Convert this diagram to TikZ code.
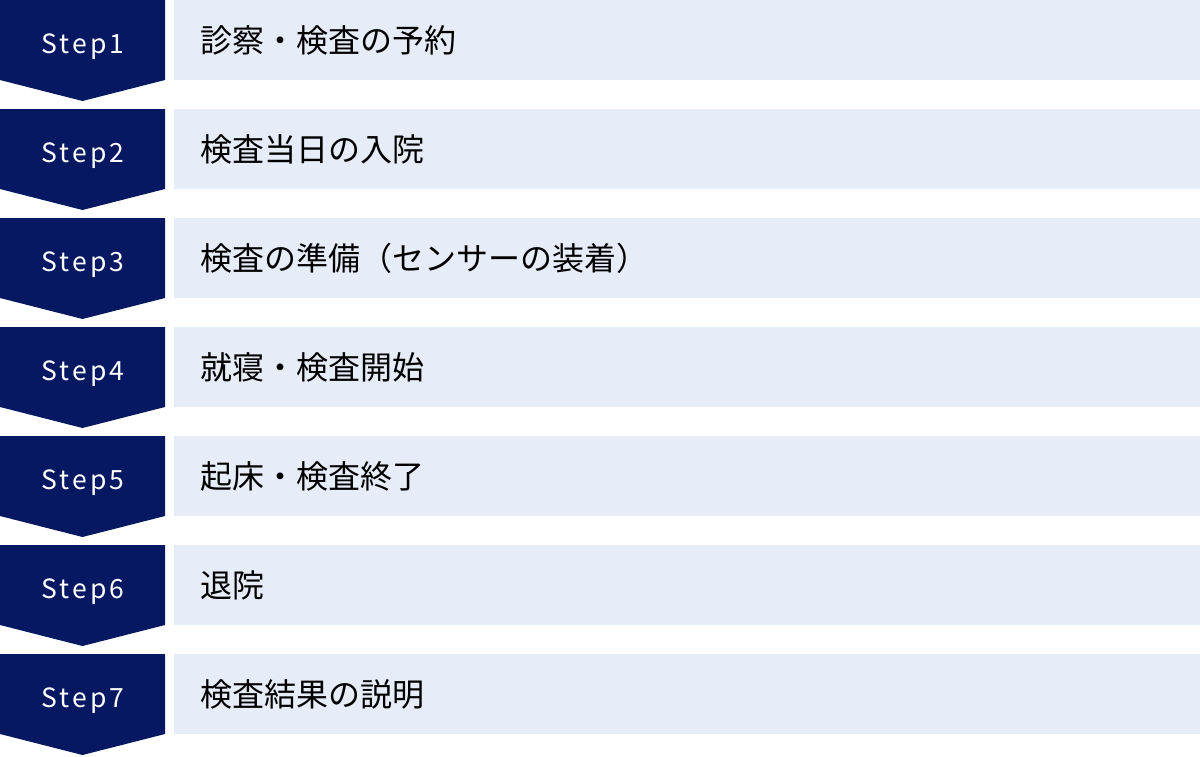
\documentclass[tikz,border=0pt]{standalone}
\usepackage{fontspec}
\setmainfont{Noto Sans CJK JP}
\newfontfamily\steplatin[LetterSpace=12]{Noto Sans CJK JP}
\definecolor{stepnavy}{HTML}{061862}
\definecolor{itemblue}{HTML}{E6ECF8}

\begin{document}
\begin{tikzpicture}[x=1pt, y=-1pt]
\tikzset{stepshape/.style={fill=stepnavy},
  steplabel/.style={text=white, font=\steplatin\fontsize{26.5}{30}\selectfont, anchor=base, inner sep=0pt},
  itembox/.style={fill=itemblue, anchor=north west, minimum width=1026pt, minimum height=80pt,
    text width=974pt, inner xsep=26pt, align=left, font=\fontsize{32}{36}\selectfont}}
\useasboundingbox (0,0) rectangle (1200,756);
% step 1
\fill[stepshape] (0,0) -- (165,0) -- (165,80) -- (82.5,101) -- (0,80) -- cycle;
\node[steplabel] (S1) at (83,53) {Step1};
\node[itembox] (T1) at (174,0) {診察・検査の予約};
% step 2
\fill[stepshape] (0,109) -- (165,109) -- (165,189) -- (82.5,210) -- (0,189) -- cycle;
\node[steplabel] (S2) at (83,162) {Step2};
\node[itembox] (T2) at (174,109) {検査当日の入院};
% step 3
\fill[stepshape] (0,218) -- (165,218) -- (165,298) -- (82.5,319) -- (0,298) -- cycle;
\node[steplabel] (S3) at (83,271) {Step3};
\node[itembox] (T3) at (174,218) {検査の準備（センサーの装着）};
% step 4
\fill[stepshape] (0,327) -- (165,327) -- (165,407) -- (82.5,428) -- (0,407) -- cycle;
\node[steplabel] (S4) at (83,380) {Step4};
\node[itembox] (T4) at (174,327) {就寝・検査開始};
% step 5
\fill[stepshape] (0,436) -- (165,436) -- (165,516) -- (82.5,537) -- (0,516) -- cycle;
\node[steplabel] (S5) at (83,489) {Step5};
\node[itembox] (T5) at (174,436) {起床・検査終了};
% step 6
\fill[stepshape] (0,545) -- (165,545) -- (165,625) -- (82.5,646) -- (0,625) -- cycle;
\node[steplabel] (S6) at (83,598) {Step6};
\node[itembox] (T6) at (174,545) {退院};
% step 7
\fill[stepshape] (0,654) -- (165,654) -- (165,734) -- (82.5,755) -- (0,734) -- cycle;
\node[steplabel] (S7) at (83,707) {Step7};
\node[itembox] (T7) at (174,654) {検査結果の説明};
\end{tikzpicture}
\end{document}
